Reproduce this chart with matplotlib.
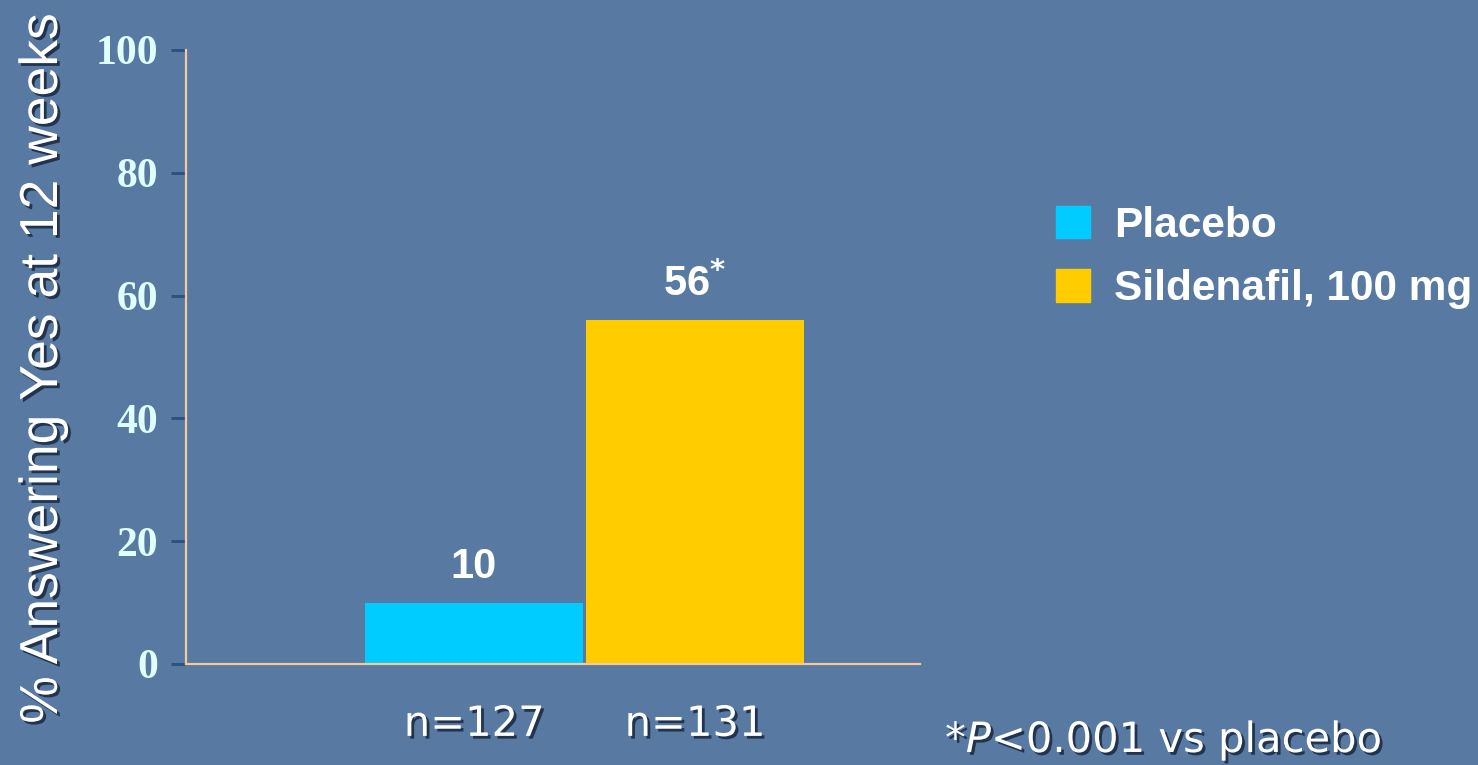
import matplotlib
matplotlib.use("Agg")
import matplotlib.pyplot as plt
import matplotlib.patches as mpatches
import matplotlib.patheffects as pe

# data
groups = ["Placebo", "Sildenafil, 100 mg"]
values = [10, 56]
marks = ["", "*"]
n_labels = ["n=127", "n=131"]
y_ticks = [0, 20, 40, 60, 80, 100]
footnote = r"*$\it{P}$<0.001 vs placebo"
ylabel = "% Answering Yes at 12 weeks"

colors = ["#00ccff", "#ffcc00"]
bg = "#587aa2"
shadow = [pe.withSimplePatchShadow(offset=(2, -2), shadow_rgbFace="#1c2c44", alpha=0.9)]

fig = plt.figure(figsize=(14.78, 7.65), dpi=100)
fig.patch.set_facecolor(bg)
ax = fig.add_axes([186 / 1478, 101 / 765, 734 / 1478, 614 / 765])
ax.set_facecolor("none")

x = list(range(len(values)))
bars = ax.bar(x, values, width=0.985, color=colors, zorder=2)

for b, v, m in zip(bars, values, marks):
    label = f"{v}" + (r"$^{\mathbf{*}}$" if m else "")
    ax.annotate(label, (b.get_x() + b.get_width() / 2, v), xytext=(0, 11),
                textcoords="offset points", ha="center", va="bottom",
                fontsize=30, fontweight="bold", color="white",
                family="Liberation Sans")

ax.set_xlim(-1.303, 2.018)
ax.set_ylim(0, 100)

for s in ["top", "right"]:
    ax.spines[s].set_visible(False)
for s in ["left", "bottom"]:
    ax.spines[s].set_color("#f5c99a")
    ax.spines[s].set_linewidth(1.6)

ax.set_yticks(y_ticks)
ax.set_yticklabels([str(t) for t in y_ticks], family="Liberation Serif",
                   fontweight="bold", fontsize=30, color="#e0ffff")
ax.tick_params(axis="y", direction="out", length=11, width=2.2,
               color="#2b5383", pad=9)

ax.set_xticks(x)
ax.set_xticklabels(n_labels, fontsize=30, color="white", family="DejaVu Sans")
ax.tick_params(axis="x", length=0, pad=28)
for t in ax.get_xticklabels():
    t.set_path_effects(shadow)

fig.text(43 / 1478, 1 - 368 / 765, ylabel, rotation=90, ha="center", va="center",
         fontsize=38.5, color="white", family="Liberation Sans",
         path_effects=shadow)

fig.text(945 / 1478, (765 - 752) / 765, footnote, ha="left", va="baseline",
         fontsize=30, color="white", family="DejaVu Sans", path_effects=shadow)

handles = [mpatches.Patch(color=c, label=g) for c, g in zip(colors, groups)]
leg = fig.legend(handles=handles, loc="upper left",
                 bbox_to_anchor=(1056 / 1478, 1 - 206 / 765),
                 frameon=False, borderpad=0, borderaxespad=0,
                 handlelength=0.8, handleheight=0.8, handletextpad=0.58,
                 labelspacing=0.55,
                 prop={"family": "Liberation Sans", "weight": "bold", "size": 30.5})
for t in leg.get_texts():
    t.set_color("white")

fig.savefig("out.png", dpi=100, facecolor=bg)
